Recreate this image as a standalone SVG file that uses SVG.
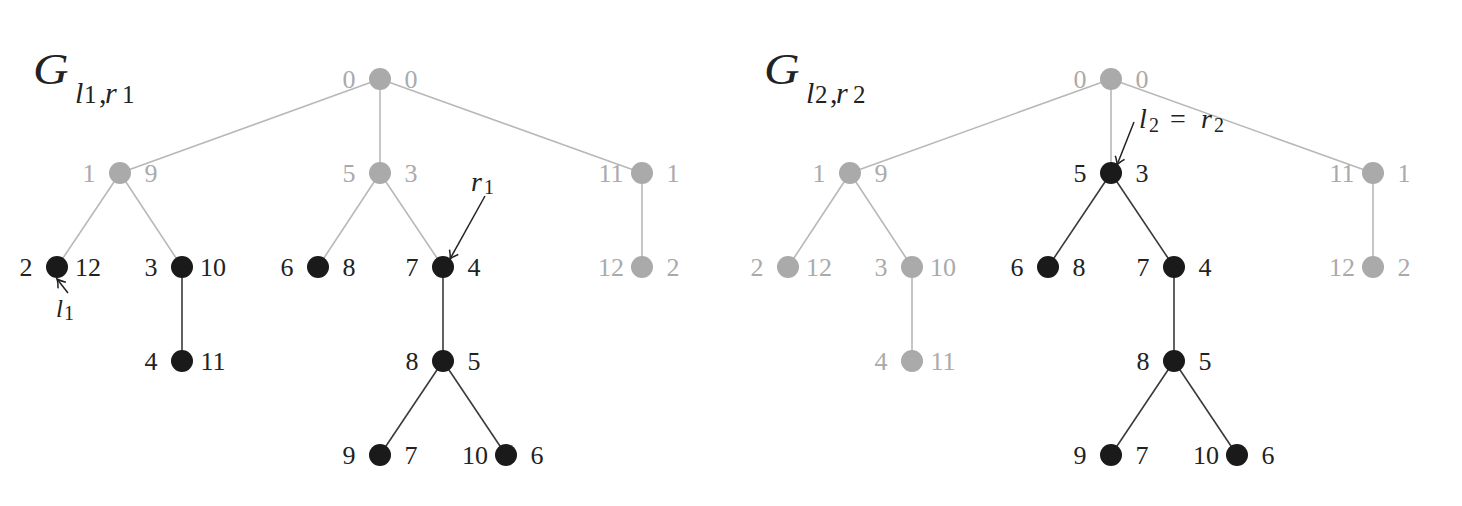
<svg xmlns="http://www.w3.org/2000/svg" width="1462" height="506" viewBox="0 0 1462 506">
<style>
.eg{stroke:#b8b8b8;stroke-width:1.6;fill:none}
.eb{stroke:#3a3a3a;stroke-width:1.6;fill:none}
.ng{fill:#aaaaaa}
.nb{fill:#1a1a1a}
text{font-family:"Liberation Serif","DejaVu Serif",serif;font-size:26px;text-anchor:middle}
.tg{fill:#aaaaaa}
.tb{fill:#222222}
.m{font-style:italic;fill:#222222;text-anchor:start}
.d{font-style:normal;fill:#222222;text-anchor:start}
.ar{stroke:#222;stroke-width:1.5;fill:none}
</style>
<defs>
<marker id="ah" markerUnits="userSpaceOnUse" markerWidth="20" markerHeight="20" refX="0" refY="0" viewBox="-10 -10 20 20" orient="auto" overflow="visible">
<path d="M-8,-5 Q-3,-1 0,0 Q-3,1 -8,5" fill="none" stroke="#222" stroke-width="1.5"/>
</marker>
</defs>
<rect width="1462" height="506" fill="#ffffff"/>

<!-- titles -->
<g id="title1">
<text class="m" transform="translate(33,84) scale(1.12,1)" style="font-size:44px">G</text>
<text class="m" x="75" y="103" style="font-size:30px">l</text>
<text class="d" x="84" y="103" style="font-size:25px">1</text>
<text class="d" x="99" y="103" style="font-size:30px">,</text>
<text class="m" x="105" y="103" style="font-size:30px">r</text>
<text class="d" x="122" y="103" style="font-size:25px">1</text>
</g>
<g id="title2">
<text class="m" transform="translate(764,84) scale(1.12,1)" style="font-size:44px">G</text>
<text class="m" x="806" y="103" style="font-size:30px">l</text>
<text class="d" x="815" y="103" style="font-size:25px">2</text>
<text class="d" x="830" y="103" style="font-size:30px">,</text>
<text class="m" x="836" y="103" style="font-size:30px">r</text>
<text class="d" x="853" y="103" style="font-size:25px">2</text>
</g>

<g id="connectors">
<!-- left tree -->
<line class="eg" x1="380" y1="79" x2="120" y2="173"/>
<line class="eg" x1="380" y1="79" x2="380" y2="173"/>
<line class="eg" x1="380" y1="79" x2="642" y2="173"/>
<line class="eg" x1="120" y1="173" x2="57" y2="267"/>
<line class="eg" x1="120" y1="173" x2="182" y2="267"/>
<line class="eg" x1="380" y1="173" x2="318" y2="267"/>
<line class="eg" x1="380" y1="173" x2="443" y2="267"/>
<line class="eg" x1="642" y1="173" x2="642" y2="267"/>
<line class="eb" x1="182" y1="267" x2="182" y2="361"/>
<line class="eb" x1="443" y1="267" x2="443" y2="361"/>
<line class="eb" x1="443" y1="361" x2="380" y2="455"/>
<line class="eb" x1="443" y1="361" x2="506" y2="455"/>
<!-- right tree -->
<line class="eg" x1="1111" y1="79" x2="850" y2="173"/>
<line class="eg" x1="1111" y1="79" x2="1111" y2="173"/>
<line class="eg" x1="1111" y1="79" x2="1373" y2="173"/>
<line class="eg" x1="850" y1="173" x2="788" y2="267"/>
<line class="eg" x1="850" y1="173" x2="912" y2="267"/>
<line class="eg" x1="912" y1="267" x2="912" y2="361"/>
<line class="eg" x1="1373" y1="173" x2="1373" y2="267"/>
<line class="eb" x1="1111" y1="173" x2="1048" y2="267"/>
<line class="eb" x1="1111" y1="173" x2="1174" y2="267"/>
<line class="eb" x1="1174" y1="267" x2="1174" y2="361"/>
<line class="eb" x1="1174" y1="361" x2="1111" y2="455"/>
<line class="eb" x1="1174" y1="361" x2="1237" y2="455"/>
<!-- pointer arrows -->
<line class="ar" x1="68" y1="293" x2="57" y2="279" marker-end="url(#ah)"/>
<line class="ar" x1="485" y1="196" x2="450" y2="259" marker-end="url(#ah)"/>
<line class="ar" x1="1134" y1="122" x2="1117" y2="165" marker-end="url(#ah)"/>
</g>

<!-- left tree nodes -->
<g id="L0"><circle class="ng" cx="380" cy="79" r="11"/><text class="tg" x="349" y="88">0</text><text class="tg" x="411" y="88">0</text></g>
<g id="L1"><circle class="ng" cx="120" cy="173" r="11"/><text class="tg" x="89" y="182">1</text><text class="tg" x="151" y="182">9</text></g>
<g id="L5"><circle class="ng" cx="380" cy="173" r="11"/><text class="tg" x="349" y="182">5</text><text class="tg" x="411" y="182">3</text></g>
<g id="L11"><circle class="ng" cx="642" cy="173" r="11"/><text class="tg" x="611" y="182">11</text><text class="tg" x="673" y="182">1</text></g>
<g id="L2"><circle class="nb" cx="57" cy="267" r="11"/><text class="tb" x="26" y="276">2</text><text class="tb" x="88" y="276">12</text></g>
<g id="L3"><circle class="nb" cx="182" cy="267" r="11"/><text class="tb" x="151" y="276">3</text><text class="tb" x="213" y="276">10</text></g>
<g id="L6"><circle class="nb" cx="318" cy="267" r="11"/><text class="tb" x="287" y="276">6</text><text class="tb" x="349" y="276">8</text></g>
<g id="L7"><circle class="nb" cx="443" cy="267" r="11"/><text class="tb" x="412" y="276">7</text><text class="tb" x="474" y="276">4</text></g>
<g id="L12"><circle class="ng" cx="642" cy="267" r="11"/><text class="tg" x="611" y="276">12</text><text class="tg" x="673" y="276">2</text></g>
<g id="L4"><circle class="nb" cx="182" cy="361" r="11"/><text class="tb" x="151" y="370">4</text><text class="tb" x="213" y="370">11</text></g>
<g id="L8"><circle class="nb" cx="443" cy="361" r="11"/><text class="tb" x="412" y="370">8</text><text class="tb" x="474" y="370">5</text></g>
<g id="L9"><circle class="nb" cx="380" cy="455" r="11"/><text class="tb" x="349" y="464">9</text><text class="tb" x="411" y="464">7</text></g>
<g id="L10"><circle class="nb" cx="506" cy="455" r="11"/><text class="tb" x="475" y="464">10</text><text class="tb" x="537" y="464">6</text></g>

<!-- right tree nodes -->
<g id="R0"><circle class="ng" cx="1111" cy="79" r="11"/><text class="tg" x="1080" y="88">0</text><text class="tg" x="1142" y="88">0</text></g>
<g id="R1"><circle class="ng" cx="850" cy="173" r="11"/><text class="tg" x="819" y="182">1</text><text class="tg" x="881" y="182">9</text></g>
<g id="R5"><circle class="nb" cx="1111" cy="173" r="11"/><text class="tb" x="1080" y="182">5</text><text class="tb" x="1142" y="182">3</text></g>
<g id="R11"><circle class="ng" cx="1373" cy="173" r="11"/><text class="tg" x="1342" y="182">11</text><text class="tg" x="1404" y="182">1</text></g>
<g id="R2"><circle class="ng" cx="788" cy="267" r="11"/><text class="tg" x="757" y="276">2</text><text class="tg" x="819" y="276">12</text></g>
<g id="R3"><circle class="ng" cx="912" cy="267" r="11"/><text class="tg" x="881" y="276">3</text><text class="tg" x="943" y="276">10</text></g>
<g id="R6"><circle class="nb" cx="1048" cy="267" r="11"/><text class="tb" x="1017" y="276">6</text><text class="tb" x="1079" y="276">8</text></g>
<g id="R7"><circle class="nb" cx="1174" cy="267" r="11"/><text class="tb" x="1143" y="276">7</text><text class="tb" x="1205" y="276">4</text></g>
<g id="R12"><circle class="ng" cx="1373" cy="267" r="11"/><text class="tg" x="1342" y="276">12</text><text class="tg" x="1404" y="276">2</text></g>
<g id="R4"><circle class="ng" cx="912" cy="361" r="11"/><text class="tg" x="881" y="370">4</text><text class="tg" x="943" y="370">11</text></g>
<g id="R8"><circle class="nb" cx="1174" cy="361" r="11"/><text class="tb" x="1143" y="370">8</text><text class="tb" x="1205" y="370">5</text></g>
<g id="R9"><circle class="nb" cx="1111" cy="455" r="11"/><text class="tb" x="1080" y="464">9</text><text class="tb" x="1142" y="464">7</text></g>
<g id="R10"><circle class="nb" cx="1237" cy="455" r="11"/><text class="tb" x="1206" y="464">10</text><text class="tb" x="1268" y="464">6</text></g>

<!-- pointer labels -->
<g id="lab-l1">
<text class="m" x="56" y="317" style="font-size:25px">l</text>
<text class="d" x="64" y="320" style="font-size:20px">1</text>
</g>
<g id="lab-r1">
<text class="m" x="471" y="191" style="font-size:28px">r</text>
<text class="d" x="484" y="194" style="font-size:20px">1</text>
</g>
<g id="lab-l2r2">
<text class="m" x="1139" y="128" style="font-size:28px">l</text>
<text class="d" x="1149" y="132" style="font-size:20px">2</text>
<text class="d" x="1170" y="128" style="font-size:28px">=</text>
<text class="m" x="1201" y="128" style="font-size:28px">r</text>
<text class="d" x="1214" y="132" style="font-size:20px">2</text>
</g>
</svg>
